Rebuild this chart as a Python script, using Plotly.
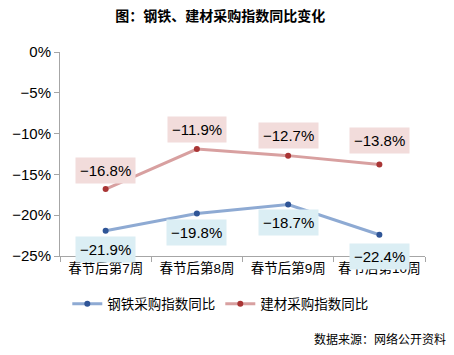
import plotly.graph_objects as go

categories = ["春节后第7周", "春节后第8周", "春节后第9周", "春节后第10周"]
steel = [-21.9, -19.8, -18.7, -22.4]
building = [-16.8, -11.9, -12.7, -13.8]
steel_name = "钢铁采购指数同比"
building_name = "建材采购指数同比"
title_text = "图：钢铁、建材采购指数同比变化"
source_text = "数据来源：网络公开资料"
y_ticks = [0, -5, -10, -15, -20, -25]

FONT = "Liberation Sans, Arial, Noto Sans CJK SC, sans-serif"

def fmt(v):
    return f"{v:.1f}%".replace("-", "\u2212")

def fmt_tick(v):
    return f"{v}%".replace("-", "\u2212")

fig = go.Figure()
fig.add_trace(go.Scatter(
    x=categories, y=steel, name=steel_name, mode="lines+markers",
    line=dict(color="#8eaad3", width=3),
    marker=dict(color="#2f5597", size=6),
))
fig.add_trace(go.Scatter(
    x=categories, y=building, name=building_name, mode="lines+markers",
    line=dict(color="#d8a0a0", width=3),
    marker=dict(color="#a93535", size=6),
))

annotations = []
steel_shift = [-19, -19, -18, -22]
building_shift = [19, 20, 20, 24]
for c, v, s in zip(categories, steel, steel_shift):
    annotations.append(dict(x=c, y=v, text=fmt(v), showarrow=False, yshift=s,
                            bgcolor="#dbeef4", borderpad=4,
                            font=dict(size=15, color="#000000", family=FONT)))
for c, v, s in zip(categories, building, building_shift):
    annotations.append(dict(x=c, y=v, text=fmt(v), showarrow=False, yshift=s,
                            bgcolor="#f2dcdb", borderpad=4,
                            font=dict(size=15, color="#000000", family=FONT)))
annotations.append(dict(x=1.063, y=-0.41, xref="paper", yref="paper", text=source_text,
                        showarrow=False, xanchor="right", yanchor="middle",
                        font=dict(size=12, color="#000000", family=FONT)))

fig.update_layout(
    width=454, height=355,
    margin=dict(l=60, r=29, t=52, b=99),
    paper_bgcolor="white", plot_bgcolor="white",
    title=dict(text="<b>" + title_text + "</b>", x=0.485, xanchor="center", y=0.955, yanchor="middle",
               font=dict(size=14, color="#000000", family="Noto Sans CJK SC, sans-serif")),
    font=dict(family=FONT, color="#000000"),
    showlegend=True,
    legend=dict(orientation="h", x=0.02, xanchor="left", y=-0.235, yanchor="middle",
                font=dict(size=13.5, color="#000000", family=FONT),
                itemwidth=30, bgcolor="rgba(0,0,0,0)"),
    annotations=annotations,
)
fig.update_xaxes(
    type="category", showgrid=False, showline=True, linecolor="#a6a6a6", linewidth=1,
    ticks="outside", tickson="boundaries", ticklen=5, tickcolor="#a6a6a6",
    tickangle=0, automargin=False,
    tickfont=dict(size=13.5, color="#000000", family=FONT), range=[-0.5, 3.5],
)
fig.update_yaxes(
    range=[-25, 0], tickmode="array", tickvals=y_ticks, ticktext=[fmt_tick(v) for v in y_ticks],
    showgrid=False, zeroline=False, automargin=False,
    showline=True, linecolor="#a6a6a6", linewidth=1, ticks="outside", ticklen=5,
    tickcolor="#a6a6a6", tickfont=dict(size=15, color="#000000", family=FONT),
)

fig.write_html(
    "out.html",
    config={"displayModeBar": False},
    post_script="document.body.style.margin='0';document.body.style.overflow='hidden';",
)
